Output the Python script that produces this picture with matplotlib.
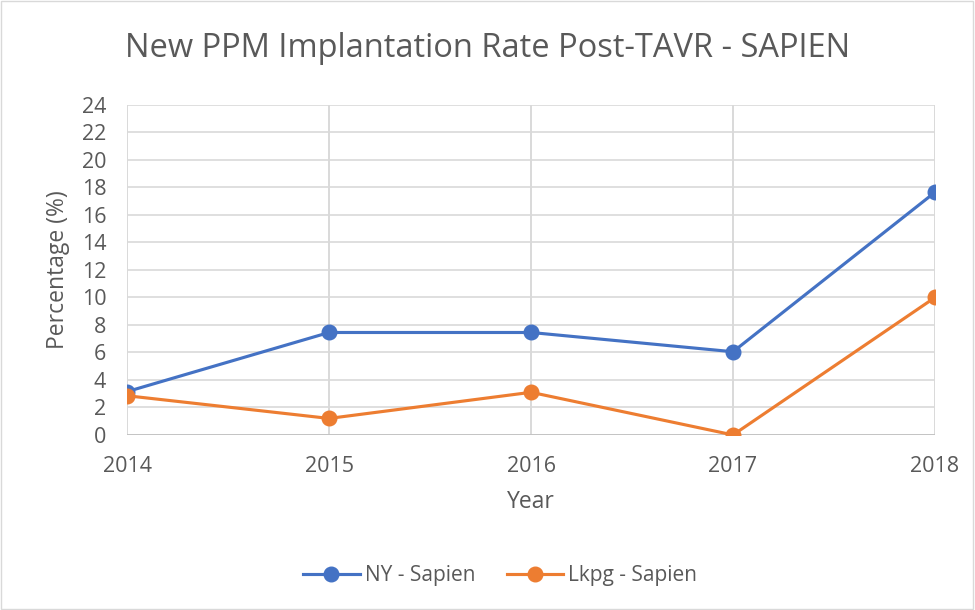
import matplotlib.pyplot as plt
from matplotlib.patches import Rectangle

years = [2014, 2015, 2016, 2017, 2018]
ny_sapien = [3.15, 7.45, 7.45, 6.05, 17.65]
lkpg_sapien = [2.85, 1.2, 3.1, 0.0, 10.0]
y_ticks = list(range(0, 25, 2))

plt.rcParams["font.family"] = ["Open Sans", "DejaVu Sans"]
text_col = "#595959"
grid_col = "#D9D9D9"

fig = plt.figure(figsize=(9.75, 6.1), dpi=100)
fig.patches.append(Rectangle((0.001, 0.001), 0.997, 0.997, transform=fig.transFigure,
                             fill=False, edgecolor="#D9D9D9", linewidth=1))
ax = fig.add_axes([0.1303, 0.287, 0.8287, 0.541])

ax.plot(years, ny_sapien, color="#4472C4", linewidth=2.25, marker="o",
        markersize=10.5, label="NY - Sapien", zorder=3)
ax.plot(years, lkpg_sapien, color="#ED7D31", linewidth=2.25, marker="o",
        markersize=10.5, label="Lkpg - Sapien", zorder=3)

ax.set_xlim(years[0], years[-1])
ax.set_ylim(0, 24)
ax.set_xticks(years)
ax.set_yticks(y_ticks)
ax.grid(True, color=grid_col, linewidth=1.2)
for s in ax.spines.values():
    s.set_visible(False)
ax.axhline(0, color="#BFBFBF", linewidth=1.2, zorder=2)
ax.tick_params(length=0, labelsize=15.5, labelcolor=text_col)
ax.tick_params(axis="x", pad=15)
ax.tick_params(axis="y", pad=15)
for x in years:
    ax.axvline(x, color=grid_col, linewidth=1.2, zorder=1)

ax.set_xlabel("Year", fontsize=16.5, color=text_col)
ax.set_ylabel("Percentage (%)", fontsize=16.5, color=text_col)
ax.xaxis.set_label_coords(0.5, -0.168)
ax.yaxis.set_label_coords(-0.07, 0.5)
fig.text(0.5, 0.92, "New PPM Implantation Rate Post-TAVR - SAPIEN",
         ha="center", va="center", fontsize=23.5, color=text_col)

fig.legend(loc="center", bbox_to_anchor=(0.513, 0.056), ncol=2, frameon=False,
           fontsize=15, labelcolor=text_col, handlelength=2.7, columnspacing=1.5,
           handletextpad=0.25)

fig.savefig("out.png", dpi=100)
